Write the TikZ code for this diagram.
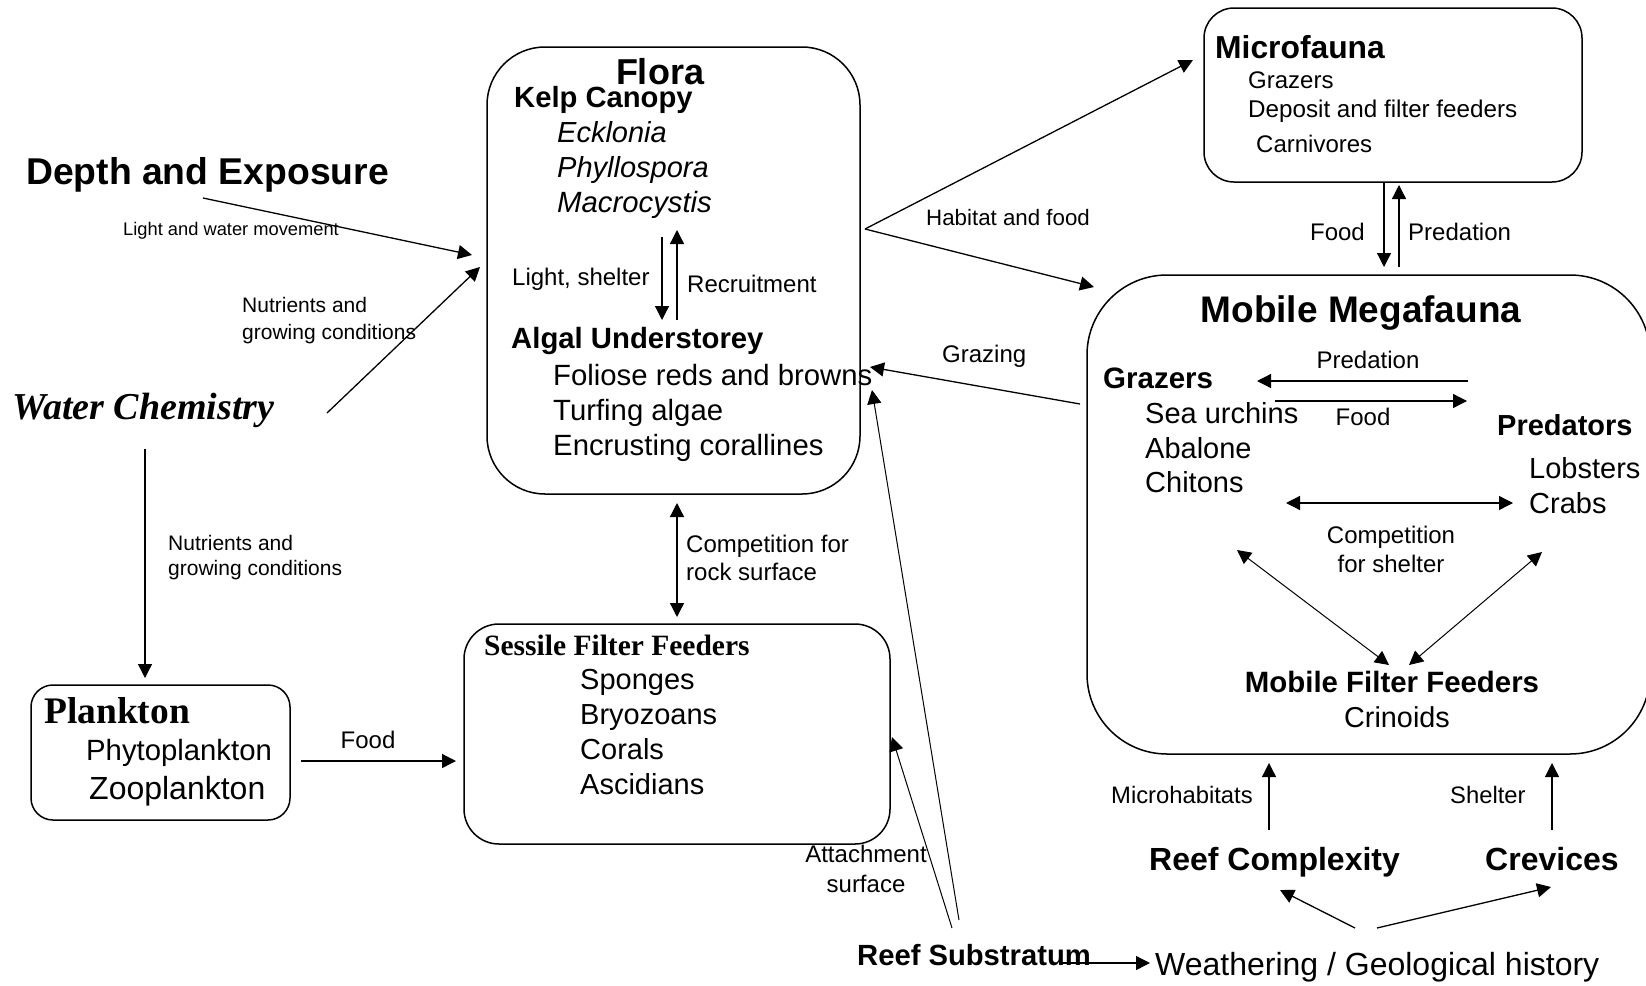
\documentclass[tikz,border=0pt]{standalone}
\usepackage{fontspec}
\setmainfont{Liberation Sans}
\newfontfamily\tms{Liberation Serif}
\usetikzlibrary{arrows.meta}
\newcommand\myfs[1]{\fontsize{#1}{#1}\selectfont}
\begin{document}
\begin{tikzpicture}[x=1pt,y=-1pt,
  box/.style={draw, line width=1.5pt, rounded corners=#1, inner sep=0pt},
  arr/.style={line width=1.3pt, -{Triangle[length=14pt,width=14pt]}},
  darr/.style={line width=1.3pt, {Triangle[length=14pt,width=14pt]}-{Triangle[length=14pt,width=14pt]}},
  tl/.style={inner sep=0pt, anchor=base west},
  tc/.style={inner sep=0pt, anchor=base},
  tr/.style={inner sep=0pt, anchor=base east},
]
\useasboundingbox (0,0) rectangle (1646,985);

% ---------- boxes ----------
\node[box=58pt, minimum width=373pt, minimum height=447pt] (flora) at (673.5,270.5) {};
\node[box=30pt, minimum width=378pt, minimum height=174pt] (micro) at (1393,95) {};
\node[box=80pt, minimum width=563pt, minimum height=479pt] (mega) at (1368.5,514.5) {};
\node[box=35pt, minimum width=426pt, minimum height=220pt] (sessile) at (677,734) {};
\node[box=22pt, minimum width=259pt, minimum height=135pt] (plank) at (160.5,752.5) {};

% ---------- left texts ----------
\node[tl] (depth) at (26,184) {\myfs{37.3}\bfseries Depth and Exposure};
\node[tl] (lightwater) at (123,235) {\myfs{18.3}Light and water movement};
\node[tl] (nutA1) at (242,312) {\myfs{21}Nutrients and};
\node[tl] (nutA2) at (242,339) {\myfs{21}growing conditions};
\node[tl] (water) at (12,419) {\myfs{38}\tms\bfseries\itshape Water Chemistry};
\node[tl] (nutB1) at (168,550) {\myfs{21}Nutrients and};
\node[tl] (nutB2) at (168,575) {\myfs{21}growing conditions};

% ---------- flora texts ----------
\node[tc] (floraT) at (660,84) {\myfs{36}\bfseries Flora};
\node[tl] (kelp) at (514,107) {\myfs{29.2}\bfseries Kelp Canopy};
\node[tl] (eck) at (557,142) {\myfs{29}\itshape Ecklonia};
\node[tl] (phy) at (557,177) {\myfs{29}\itshape Phyllospora};
\node[tl] (mac) at (557,212) {\myfs{29.3}\itshape Macrocystis};
\node[tl] (lightsh) at (512,285) {\myfs{24}Light, shelter};
\node[tl] (recr) at (687,292) {\myfs{24}Recruitment};
\node[tl] (algal) at (511,348) {\myfs{29.3}\bfseries Algal Understorey};
\node[tl] (fol) at (553,385) {\myfs{29.3}Foliose reds and browns};
\node[tl] (turf) at (553,420) {\myfs{29.3}Turfing algae};
\node[tl] (encr) at (553,455) {\myfs{29.3}Encrusting corallines};

% ---------- microfauna texts ----------
\node[tl] (microT) at (1215,58) {\myfs{31.8}\bfseries Microfauna};
\node[tl] (mg) at (1248,88) {\myfs{24}Grazers};
\node[tl] (md) at (1248,117) {\myfs{24.2}Deposit and filter feeders};
\node[tl] (mc) at (1256,152) {\myfs{24}Carnivores};
\node[tr] (foodM) at (1365,240) {\myfs{24}Food};
\node[tl] (predM) at (1408,240) {\myfs{24}Predation};
\node[tl] (habitat) at (926,225) {\myfs{22.3}Habitat and food};
\node[tl] (grazing) at (942,362) {\myfs{24}Grazing};

% ---------- megafauna texts ----------
\node[tc] (megaT) at (1361,322) {\myfs{37}\bfseries Mobile Megafauna};
\node[tc] (predL) at (1368,368) {\myfs{24}Predation};
\node[tc] (foodL) at (1363,425) {\myfs{24}Food};
\node[tl] (grz) at (1103,388) {\myfs{29.5}\bfseries Grazers};
\node[tl] (sea) at (1145,423) {\myfs{29}Sea urchins};
\node[tl] (aba) at (1145,458) {\myfs{29}Abalone};
\node[tl] (chi) at (1145,492) {\myfs{29}Chitons};
\node[tl] (pred) at (1497,435) {\myfs{29}\bfseries Predators};
\node[tl] (lob) at (1529,478) {\myfs{29}Lobsters};
\node[tl] (crab) at (1529,513) {\myfs{29}Crabs};
\node[tc] (comp1) at (1391,543) {\myfs{24}Competition};
\node[tc] (comp2) at (1391,572) {\myfs{24}for shelter};
\node[tc] (mff) at (1392,692) {\myfs{29.4}\bfseries Mobile Filter Feeders};
\node[tc] (crin) at (1397,727) {\myfs{28.8}Crinoids};

% ---------- bottom right texts ----------
\node[tl] (microh) at (1111,803) {\myfs{23.8}Microhabitats};
\node[tl] (shel) at (1450,803) {\myfs{23.8}Shelter};
\node[tl] (reefc) at (1149,870) {\myfs{32}\bfseries Reef Complexity};
\node[tl] (crev) at (1485,870) {\myfs{32}\bfseries Crevices};
\node[tl] (reefs) at (857,965) {\myfs{29.2}\bfseries Reef Substratum};
\node[tl] (weath) at (1155,975) {\myfs{32}Weathering / Geological history};
\node[tc] (att1) at (866,862) {\myfs{24}Attachment};
\node[tc] (att2) at (866,892) {\myfs{24}surface};

% ---------- sessile / plankton texts ----------
\node[tl] (comR1) at (686,552) {\myfs{24}Competition for};
\node[tl] (comR2) at (686,580) {\myfs{24}rock surface};
\node[tl] (sessT) at (484,655) {\myfs{29.5}\tms\bfseries Sessile Filter Feeders};
\node[tl] (spo) at (580,689) {\myfs{29}Sponges};
\node[tl] (bry) at (580,724) {\myfs{29}Bryozoans};
\node[tl] (cor) at (580,759) {\myfs{29}Corals};
\node[tl] (asc) at (580,794) {\myfs{29}Ascidians};
\node[tl] (plankT) at (44,723) {\myfs{37.5}\tms\bfseries Plankton};
\node[tl] (phyto) at (86,760) {\myfs{29.3}Phytoplankton};
\node[tl] (zoo) at (89,799) {\myfs{32}Zooplankton};
\node[tc] (foodP) at (368,748) {\myfs{24}Food};

% ---------- connector end points ----------
\coordinate (dA) at (203,198);   \coordinate (dB) at (472,255);
\coordinate (wA) at (327,413);   \coordinate (wB) at (480,267);
\coordinate (wC) at (145,449);   \coordinate (wD) at (145,678);
\coordinate (pA) at (301,761);   \coordinate (pB) at (456,761);
\coordinate (cA) at (677,503);   \coordinate (cB) at (677,617);
\coordinate (kA) at (662,237);   \coordinate (kB) at (662,320);
\coordinate (kC) at (677,320);   \coordinate (kD) at (677,230);
\coordinate (hV) at (865,229);   \coordinate (hU) at (1193,60);
\coordinate (hL) at (1094,287);
\coordinate (mA) at (1384,183);  \coordinate (mB) at (1384,267);
\coordinate (mC) at (1399,267);  \coordinate (mD) at (1399,185);
\coordinate (gA) at (1080,404);  \coordinate (gB) at (870,367);
\coordinate (prA) at (1468,381); \coordinate (prB) at (1257,381);
\coordinate (fdA) at (1275,401); \coordinate (fdB) at (1467,401);
\coordinate (csA) at (1286,503); \coordinate (csB) at (1513,503);
\coordinate (lgA) at (1237,550); \coordinate (lgB) at (1389,665);
\coordinate (rgA) at (1542,552); \coordinate (rgB) at (1409,665);
\coordinate (mhA) at (1269,830); \coordinate (mhB) at (1269,763);
\coordinate (shA) at (1552,830); \coordinate (shB) at (1552,763);
\coordinate (rcA) at (1355,928); \coordinate (rcB) at (1280,890);
\coordinate (cvA) at (1377,928); \coordinate (cvB) at (1551,887);
\coordinate (rsA) at (1059,963); \coordinate (rsB) at (1150,963);
\coordinate (atA) at (952,928);  \coordinate (atB) at (892,737);
\coordinate (flA) at (959,920);  \coordinate (flB) at (872,390);

% ---------- connectors ----------
\draw[arr] (dA) -- (dB);
\draw[arr] (wA) -- (wB);
\draw[arr] (wC) -- (wD);
\draw[arr] (pA) -- (pB);
\draw[darr] (cA) -- (cB);
\draw[arr] (kA) -- (kB);
\draw[arr] (kC) -- (kD);
\draw[arr] (hV) -- (hU);
\draw[arr] (hV) -- (hL);
\draw[arr] (mA) -- (mB);
\draw[arr] (mC) -- (mD);
\draw[arr] (gA) -- (gB);
\draw[arr] (prA) -- (prB);
\draw[arr] (fdA) -- (fdB);
\draw[darr] (csA) -- (csB);
\draw[darr, line width=1pt] (lgA) -- (lgB);
\draw[darr, line width=1pt] (rgA) -- (rgB);
\draw[arr] (mhA) -- (mhB);
\draw[arr] (shA) -- (shB);
\draw[arr] (rcA) -- (rcB);
\draw[arr] (cvA) -- (cvB);
\draw[arr] (rsA) -- (rsB);
\draw[arr, line width=1pt] (atA) -- (atB);
\draw[arr, line width=1pt] (flA) -- (flB);
\end{tikzpicture}
\end{document}
